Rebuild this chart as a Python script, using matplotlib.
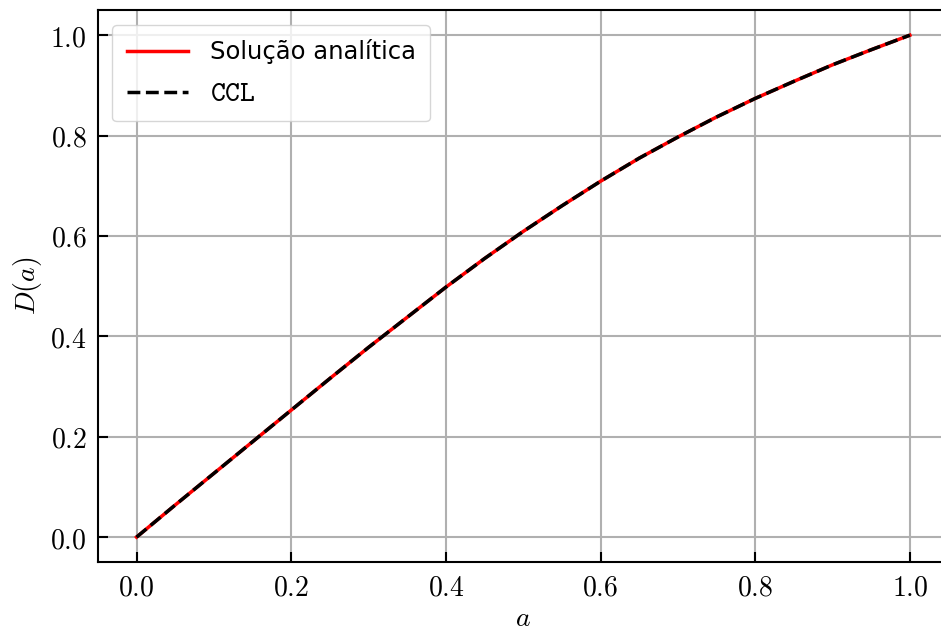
import matplotlib
matplotlib.use("Agg")
import matplotlib.pyplot as plt
from matplotlib.ticker import FuncFormatter

# valores
a = [0.0, 0.05, 0.1, 0.15, 0.2, 0.25, 0.3, 0.35, 0.4, 0.45, 0.5,
     0.55, 0.6, 0.65, 0.7, 0.75, 0.8, 0.85, 0.9, 0.95, 1.0]
D_analitica = [0.0, 0.064, 0.127, 0.190, 0.253, 0.316, 0.378, 0.438, 0.498,
               0.555, 0.609, 0.660, 0.709, 0.755, 0.797, 0.837, 0.874,
               0.908, 0.941, 0.971, 1.0]
D_ccl = list(D_analitica)

plt.rcParams['mathtext.fontset'] = 'cm'
plt.rcParams['font.size'] = 20

fig = plt.figure(figsize=(9.41, 6.31), dpi=100)
ax = fig.add_axes([0.104, 0.109, 0.904, 0.875])

ax.plot(a, D_analitica, color='red', lw=2.5, label='Solução analítica')
ax.plot(a, D_ccl, color='black', lw=2.5, ls='--', label=r'$\mathtt{CCL}$')

ax.set_xlim(-0.05, 1.05)
ax.set_ylim(-0.05, 1.05)
ticks = [0.0, 0.2, 0.4, 0.6, 0.8, 1.0]
ax.set_xticks(ticks)
ax.set_yticks(ticks)
fmt = FuncFormatter(lambda v, p: r'$%.1f$' % v)
ax.xaxis.set_major_formatter(fmt)
ax.yaxis.set_major_formatter(fmt)
ax.tick_params(direction='in', length=7, width=1.5, labelsize=20, pad=8)
for s in ax.spines.values():
    s.set_linewidth(1.5)
ax.grid(True, color='#b0b0b0', lw=1.5)

ax.set_xlabel(r'$a$', fontsize=20, labelpad=2)
ax.set_ylabel(r'$D(a)$', fontsize=20)

leg = ax.legend(loc='upper left', fontsize=17.5, handlelength=2.5,
                handletextpad=0.9, labelspacing=0.6, borderpad=0.6,
                borderaxespad=0.6, framealpha=0.8)
leg.get_texts()[1].set_fontsize(20.5)

fig.savefig('out.png', dpi=100)
